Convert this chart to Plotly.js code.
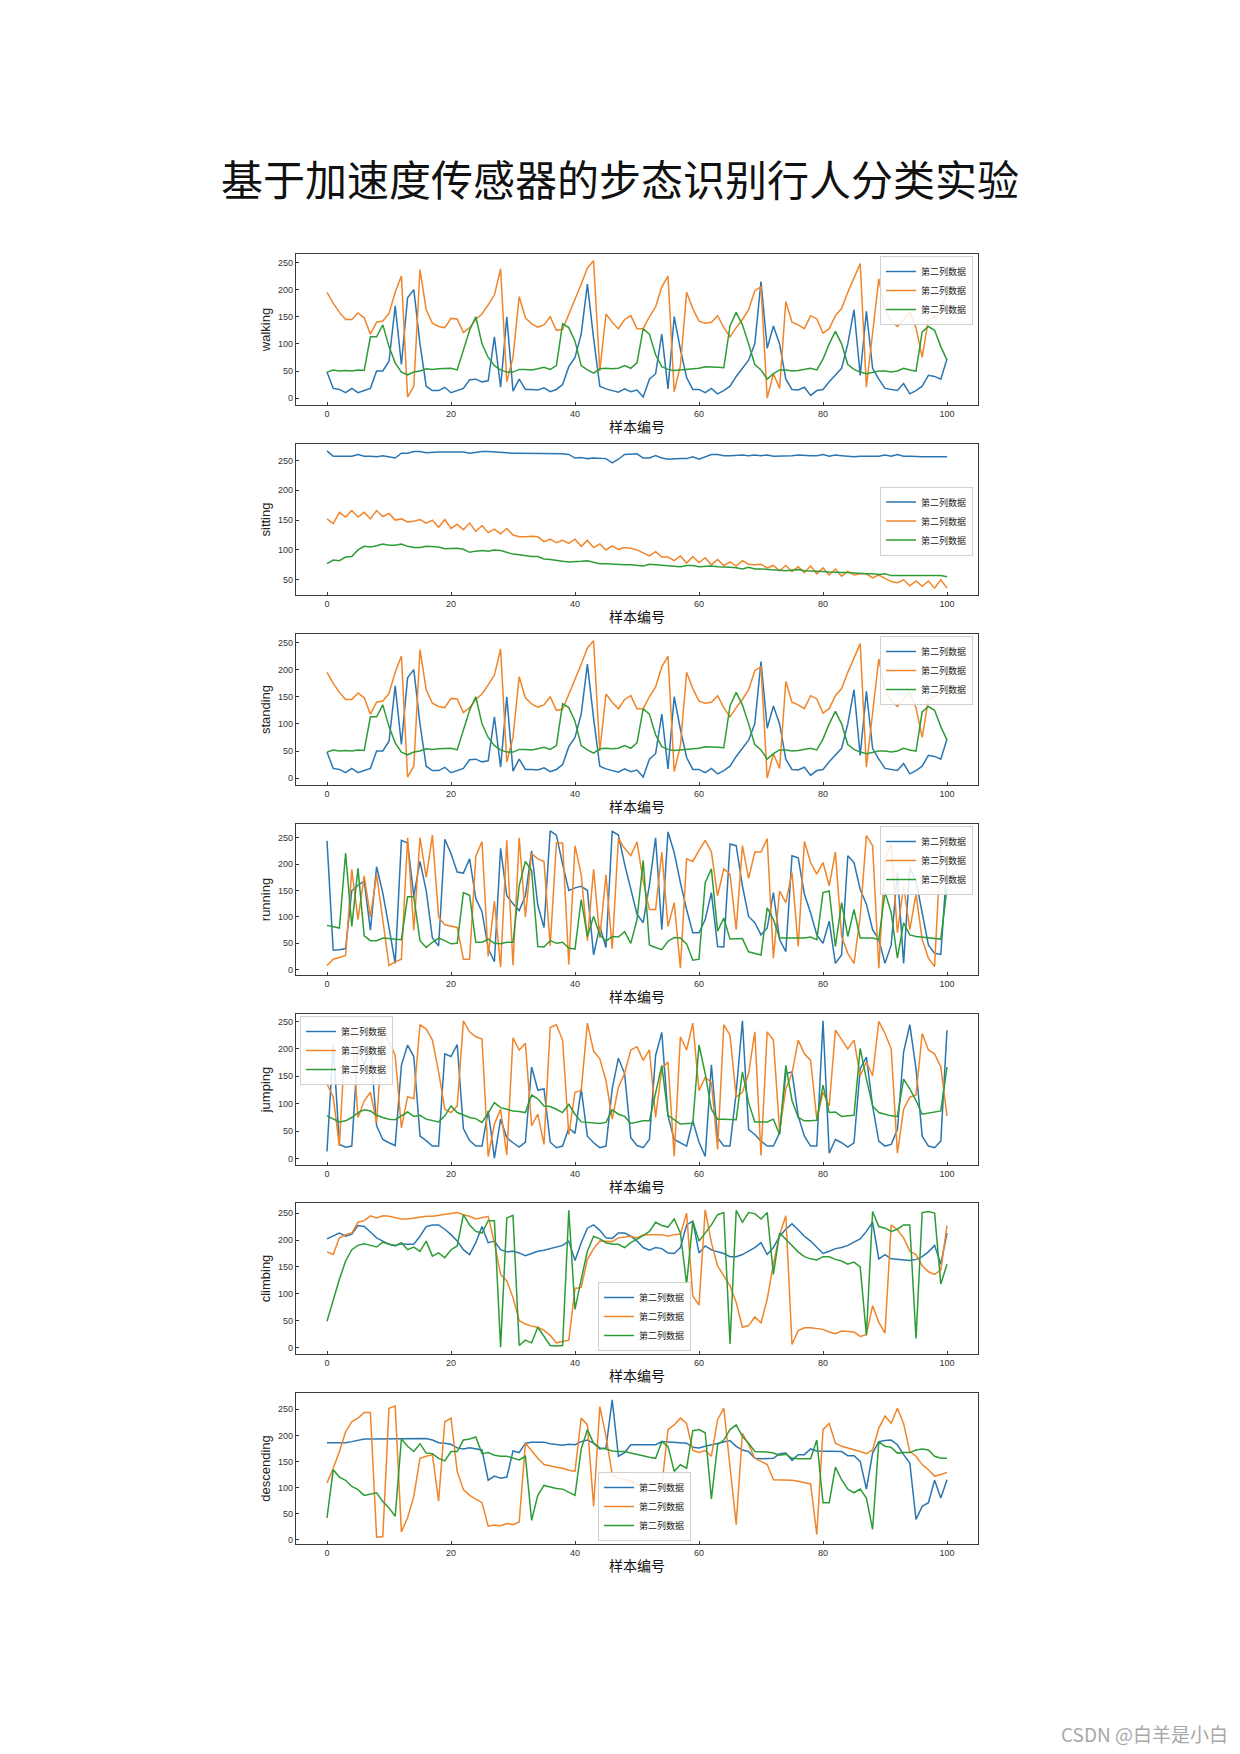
<!DOCTYPE html>
<html><head><meta charset="utf-8">
<script src="https://cdn.plot.ly/plotly-3.0.1.min.js"></script>
<style>html,body{margin:0;padding:0;background:#fff}#chart{width:1240px;height:1754px}</style>
</head><body><div id="chart"></div>
<script>
// ---------------- data ----------------
const sampleIndex = Array.from({length: 101}, (_, i) => i);
const seriesName = '第二列数据';
const panelNames = ['walking', 'sitting', 'standing', 'running', 'jumping', 'climbing', 'descending'];
const xTickVals = [0, 20, 40, 60, 80, 100];
const xTitle = '样本编号';
const chartTitle = '基于加速度传感器的步态识别行人分类实验';
const watermark = 'CSDN @白羊是小白';

const walkingBlue = [48,18,16,10,18,10,14,18,50,50,68,170,62,185,200,100,22,14,14,20,10,14,18,34,35,30,32,113,20,150,13,35,16,16,15,19,12,16,25,58,75,118,210,110,22,17,14,11,17,12,15,2,35,45,118,17,150,90,38,16,16,10,18,8,14,22,40,55,70,100,215,92,133,100,35,16,15,20,5,14,16,30,42,55,100,163,42,160,55,35,18,16,14,27,8,14,22,42,40,35,72];
const walkingOrange = [195,175,158,145,145,157,148,118,140,142,156,195,225,2,22,237,163,138,132,130,147,146,121,130,145,155,172,190,238,30,75,187,148,137,131,135,150,125,127,155,180,210,240,253,50,155,140,128,145,152,128,128,150,168,205,225,12,60,195,165,142,138,140,152,130,113,130,145,163,198,205,0,45,18,178,140,135,128,152,146,120,128,152,165,195,220,248,20,120,220,162,142,132,145,158,130,75,145,150,158,195];
const walkingGreen = [48,52,50,51,50,52,51,113,113,135,95,65,48,43,48,50,54,53,54,55,55,52,90,125,150,100,75,60,52,48,48,53,53,52,54,57,53,60,137,130,105,60,52,46,54,55,54,55,60,55,65,128,118,80,58,53,51,52,53,55,55,58,58,57,56,133,158,135,100,62,52,35,45,52,52,50,51,53,55,52,72,100,123,100,62,53,48,45,47,50,50,48,50,55,52,50,122,132,125,95,70];

const sittingBlue = [266,257,257,257,257,260,257,257,256,258,256,254,262,262,265,265,263,264,264,264,264,263,264,262,264,265,265,264,264,263,262,262,262,262,262,262,262,261,261,260,254,255,253,254,253,253,246,252,260,261,261,254,254,258,254,252,253,253,253,256,252,256,260,260,258,258,259,259,258,259,258,259,257,257,257,258,259,258,258,258,260,257,259,258,257,256,257,257,258,257,259,257,260,257,257,256,256,256,256,256,256];
const sittingOrange = [152,144,163,155,166,155,163,152,166,156,161,150,152,147,148,151,145,150,138,151,136,143,134,145,131,141,129,135,127,136,125,122,122,123,122,114,118,112,116,111,118,106,116,104,110,100,107,101,104,103,100,95,90,97,88,88,82,90,78,89,79,87,75,84,74,80,73,82,76,75,76,70,74,65,74,64,72,62,73,60,70,58,68,56,64,58,60,60,53,58,52,47,45,50,40,48,39,48,36,50,36];
const sittingGreen = [77,83,82,88,89,100,106,105,107,110,108,108,110,106,104,104,106,106,105,102,102,103,101,96,98,99,98,100,99,96,93,92,90,89,89,85,84,82,81,80,80,81,82,80,77,77,76,76,75,75,74,73,76,75,74,74,73,72,74,74,72,73,73,72,72,71,70,68,71,68,68,67,67,66,65,66,67,65,65,64,64,63,62,62,62,61,60,60,60,59,60,57,57,57,56,56,56,56,56,57,55];

const standingBlue = [48,18,16,10,18,10,14,18,50,50,68,170,62,185,200,100,22,14,14,20,10,14,18,34,35,30,32,113,20,150,13,35,16,16,15,19,12,16,25,58,75,118,210,110,22,17,14,11,17,12,15,2,35,45,118,17,150,90,38,16,16,10,18,8,14,22,40,55,70,100,215,92,133,100,35,16,15,20,5,14,16,30,42,55,100,163,42,160,55,35,18,16,14,27,8,14,22,42,40,35,72];
const standingOrange = [195,175,158,145,145,157,148,118,140,142,156,195,225,2,22,237,163,138,132,130,147,146,121,130,145,155,172,190,238,30,75,187,148,137,131,135,150,125,127,155,180,210,240,253,50,155,140,128,145,152,128,128,150,168,205,225,12,60,195,165,142,138,140,152,130,113,130,145,163,198,205,0,45,18,178,140,135,128,152,146,120,128,152,165,195,220,248,20,120,220,162,142,132,145,158,130,75,145,150,158,195];
const standingGreen = [48,52,50,51,50,52,51,113,113,135,95,65,48,43,48,50,54,53,54,55,55,52,90,125,150,100,75,60,52,48,48,53,53,52,54,57,53,60,137,130,105,60,52,46,54,55,54,55,60,55,65,128,118,80,58,53,51,52,53,55,55,58,58,57,56,133,158,135,100,62,52,35,45,52,52,50,51,53,55,52,72,100,123,100,62,53,48,45,47,50,50,48,50,55,52,50,122,132,125,95,70];

const runningBlue = [244,37,38,40,150,160,168,75,195,145,80,12,245,240,140,205,150,60,45,247,220,185,183,210,135,110,40,15,230,140,125,112,140,225,122,80,263,255,200,150,155,158,150,28,82,42,262,255,200,150,105,89,160,250,76,261,222,165,114,70,70,95,146,44,43,238,235,159,101,89,66,79,146,57,34,216,212,143,108,66,50,92,12,28,216,203,152,124,76,57,12,47,184,12,194,168,108,47,31,29,200];
const runningOrange = [8,20,23,27,190,95,178,100,180,90,8,15,20,250,75,250,175,255,100,85,83,80,20,20,215,243,25,130,5,245,8,250,100,220,210,205,45,240,240,10,235,180,55,190,60,180,40,248,230,216,242,168,114,114,223,82,127,3,210,205,226,245,223,140,191,181,76,235,173,223,223,248,22,149,127,184,44,243,203,181,203,159,223,63,31,12,101,254,235,3,210,238,70,159,76,143,57,22,6,240,250];
const runningGreen = [84,82,79,221,82,192,64,55,55,60,59,57,57,138,138,55,42,52,60,55,49,50,146,141,52,52,58,50,49,52,52,159,205,188,44,43,55,50,52,41,39,133,63,101,66,54,63,62,72,50,95,207,47,42,38,54,61,60,49,18,20,165,191,73,98,58,58,59,34,31,28,117,95,60,60,60,60,60,62,57,146,149,44,127,63,114,60,60,60,57,147,108,22,89,66,63,62,60,60,58,154];

const jumpingBlue = [13,207,26,21,23,205,170,205,60,35,29,24,170,207,186,41,33,23,23,191,186,208,55,33,23,23,87,1,72,38,29,21,30,167,125,127,30,20,23,56,46,127,41,29,20,23,127,183,155,38,24,20,35,188,230,78,35,29,23,69,30,4,171,38,23,23,121,251,53,44,32,23,23,47,155,158,78,41,23,23,251,10,35,29,21,29,164,185,96,32,23,26,53,194,244,164,41,23,20,32,234];
const jumpingOrange = [136,113,23,235,240,75,105,121,66,231,213,188,56,113,109,244,236,216,158,90,84,96,251,231,222,218,4,63,90,7,220,198,210,60,81,26,239,244,216,44,121,124,247,196,182,142,72,130,155,198,204,179,198,75,164,176,4,222,198,247,124,148,139,17,244,225,112,121,155,231,6,231,216,50,127,155,216,191,179,72,121,96,234,216,200,216,151,176,151,250,228,200,10,90,112,116,228,198,191,167,78];
const jumpingGreen = [78,72,67,69,75,84,89,87,79,75,72,71,78,85,77,79,72,69,67,78,96,84,79,75,73,66,83,102,93,90,87,86,84,116,109,96,95,90,84,99,81,67,66,64,64,66,89,81,77,64,67,69,69,121,170,79,71,63,64,64,207,155,90,72,72,71,71,158,102,67,67,67,72,44,170,106,75,69,69,70,134,84,85,77,78,79,201,145,96,84,81,78,77,145,127,106,81,83,84,87,167];

const climbingBlue = [202,208,213,207,211,227,225,215,204,198,192,190,193,192,192,207,225,228,228,220,210,198,182,173,195,225,195,198,182,178,179,176,171,175,179,181,184,187,190,198,162,195,222,228,218,204,203,213,213,207,198,186,181,186,184,176,175,186,228,235,176,189,182,178,175,169,169,173,179,186,195,173,186,207,220,230,219,207,198,186,175,179,184,186,190,196,202,216,233,165,173,165,164,164,162,164,169,178,190,155,213];
const climbingOrange = [178,173,204,210,213,233,236,245,241,245,244,241,239,239,241,242,244,244,246,247,250,251,247,244,239,241,244,195,136,124,93,50,44,40,38,32,23,9,12,14,110,112,164,184,198,198,197,204,205,207,204,210,210,210,210,207,210,211,250,96,79,256,195,152,133,115,84,38,41,57,46,90,155,210,245,6,32,37,37,36,34,29,26,31,30,29,21,24,78,47,27,228,219,204,179,173,152,141,136,144,227];
const climbingGreen = [49,90,127,161,182,190,193,190,187,196,192,189,195,182,187,179,198,170,176,167,182,189,247,228,216,213,236,236,1,241,246,4,14,9,38,20,4,3,4,255,71,127,179,207,202,195,192,192,186,195,201,208,216,233,227,224,239,213,118,235,198,213,228,247,251,7,255,233,251,249,239,251,136,213,201,189,178,169,165,163,169,169,164,161,155,159,150,23,253,225,222,216,220,228,228,17,251,253,250,118,155];

const descendingBlue = [186,186,186,186,188,191,193,193,193,193,193,193,194,193,193,193,194,191,186,185,183,176,174,176,174,172,114,122,118,120,170,167,185,187,187,187,184,183,181,183,182,188,191,185,174,176,268,160,167,182,182,182,182,182,188,187,186,185,185,177,176,179,182,185,188,190,179,172,169,156,155,155,156,165,166,152,163,163,174,170,170,169,169,169,161,161,150,97,166,188,190,191,182,163,147,39,64,71,114,80,115];
const descendingOrange = [109,137,169,207,226,233,244,244,5,6,252,256,15,42,83,156,160,163,74,226,233,131,96,85,78,71,26,28,27,31,29,34,185,170,156,144,141,139,137,133,131,233,220,64,255,198,125,118,115,112,107,106,107,106,104,211,220,233,223,171,167,171,160,230,252,140,29,204,182,156,150,144,115,115,115,114,112,110,107,10,211,223,185,179,176,172,169,165,172,214,237,223,252,223,169,160,144,134,122,125,129];
const descendingGreen = [42,134,120,114,102,96,85,88,90,73,61,45,193,179,169,184,166,165,156,151,169,169,191,193,197,165,167,162,160,160,156,153,160,37,85,104,101,98,97,91,85,174,211,185,176,174,170,169,169,166,163,160,158,156,188,179,131,144,137,209,211,205,78,182,191,211,220,198,185,169,169,168,166,162,164,156,155,155,155,191,71,71,139,115,97,90,97,80,20,188,179,177,166,167,167,172,174,172,160,156,156];

// ---------------- styling / layout ----------------
const W = 1240, H = 1754;
const colors = ['#2b76b0', '#f0852a', '#2e9c36'];
const plotLeft = 296, plotRight = 978, plotH = 151;
const plotTops = [254, 444, 634, 824, 1014, 1203, 1393];
const panelSeries = [
  [walkingBlue, walkingOrange, walkingGreen],
  [sittingBlue, sittingOrange, sittingGreen],
  [standingBlue, standingOrange, standingGreen],
  [runningBlue, runningOrange, runningGreen],
  [jumpingBlue, jumpingOrange, jumpingGreen],
  [climbingBlue, climbingOrange, climbingGreen],
  [descendingBlue, descendingOrange, descendingGreen]
];
// legend placement in pixels: [x, y, xanchor, yanchor]
const legendPos = [
  [973, 256, 'right', 'top'],
  [973, 521, 'right', 'middle'],
  [973, 636, 'right', 'top'],
  [973, 826, 'right', 'top'],
  [300, 1016, 'left', 'top'],
  [598, 1351, 'left', 'bottom'],
  [598, 1541, 'left', 'bottom']
];

const traces = [];
const layout = {
  width: W, height: H,
  margin: {l: 0, r: 0, t: 0, b: 0},
  paper_bgcolor: '#ffffff', plot_bgcolor: '#ffffff',
  showlegend: true,
  title: {
    text: chartTitle, x: 0.5, xanchor: 'center', xref: 'paper',
    y: 1 - 181 / H, yanchor: 'middle', yref: 'paper',
    font: {family: 'Noto Sans CJK SC', size: 42, color: '#111'}
  },
  annotations: [{
    text: watermark, xref: 'paper', yref: 'paper',
    x: 1230 / W, y: 1 - 1733 / H, xanchor: 'right', yanchor: 'middle',
    showarrow: false, font: {family: 'Noto Sans CJK SC', size: 19, color: '#a8a8a8'}
  }]
};

function axisBase() {
  return {
    showline: true, mirror: true, linecolor: '#3a3a3a', linewidth: 1.2,
    ticks: 'inside', ticklen: 3, tickwidth: 1, tickcolor: '#3a3a3a',
    showgrid: false, zeroline: false,
    tickfont: {family: 'Liberation Sans', size: 9, color: '#333'}
  };
}

panelNames.forEach((name, p) => {
  const k = p + 1;
  const xa = k === 1 ? 'xaxis' : 'xaxis' + k;
  const ya = k === 1 ? 'yaxis' : 'yaxis' + k;
  const xr = k === 1 ? 'x' : 'x' + k;
  const yr = k === 1 ? 'y' : 'y' + k;
  const lg = k === 1 ? 'legend' : 'legend' + k;
  const series = panelSeries[p];
  series.forEach((vals, j) => {
    traces.push({
      type: 'scatter', mode: 'lines', x: sampleIndex, y: vals,
      xaxis: xr, yaxis: yr, legend: lg, name: seriesName,
      line: {color: colors[j], width: 1.5}
    });
  });
  const all = [].concat(...series);
  const lo = Math.min(...all), hi = Math.max(...all);
  const pad = (hi - lo) * 0.05;
  const top = plotTops[p];
  layout[xa] = Object.assign(axisBase(), {
    domain: [plotLeft / W, plotRight / W], range: [-5, 105],
    tickvals: xTickVals, anchor: yr,
    title: {text: xTitle, standoff: 4, font: {family: 'Noto Sans CJK SC', size: 14, color: '#111'}}
  });
  layout[ya] = Object.assign(axisBase(), {
    domain: [1 - (top + plotH) / H, 1 - top / H], range: [lo - pad, hi + pad],
    tick0: 0, dtick: 50, anchor: xr,
    title: {text: name, standoff: 4, font: {family: 'Liberation Sans', size: 13, color: '#222'}}
  });
  const lp = legendPos[p];
  layout[lg] = {
    x: lp[0] / W, y: 1 - lp[1] / H, xanchor: lp[2], yanchor: lp[3],
    xref: 'paper', yref: 'paper',
    bgcolor: 'rgba(255,255,255,0.85)', bordercolor: '#d0d0d0', borderwidth: 1,
    font: {family: 'Noto Sans CJK SC', size: 9, color: '#222'},
    itemwidth: 30, tracegroupgap: 0
  };
});

Plotly.newPlot('chart', traces, layout, {staticPlot: true, displayModeBar: false});
</script>
</body></html>
